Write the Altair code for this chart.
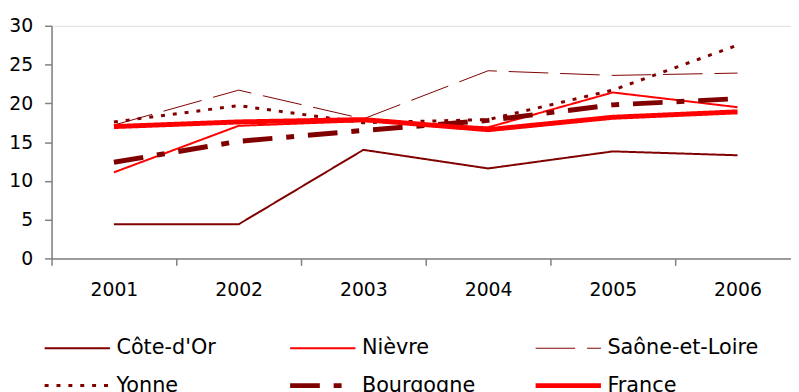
import altair as alt
import pandas as pd

years = [2001, 2002, 2003, 2004, 2005, 2006]
series = ["Côte-d'Or", "Nièvre", "Saône-et-Loire", "Yonne", "Bourgogne", "France"]
cote_dor = [4.4, 4.4, 14.0, 11.6, 13.8, 13.3]
nievre = [11.1, 17.1, 17.7, 16.9, 21.4, 19.5]
saone = [17.2, 21.7, 18.0, 24.2, 23.6, 23.9]
yonne = [17.6, 19.7, 17.5, 17.9, 21.7, 27.5]
bourgogne = [12.4, 15.1, 16.5, 17.8, 19.8, 20.6]
france = [17.0, 17.6, 17.9, 16.6, 18.2, 18.9]
y_ticks = [0, 5, 10, 15, 20, 25, 30]

colors = ["#800000", "#ff0000", "#800000", "#800000", "#800000", "#ff0000"]
dashes = [[1, 0], [1, 0], [40, 12], [4, 8], [30, 14, 8, 14], [1, 0]]
widths = [2, 2, 1, 3, 5, 5]

values = [cote_dor, nievre, saone, yonne, bourgogne, france]
rows = []
for name, vals in zip(series, values):
    for yr, v in zip(years, vals):
        rows.append({"year": yr, "value": v, "serie": name})
df = pd.DataFrame(rows)

W = 747
H = 235
band = 126

legend = alt.Legend(
    title=None,
    orient="none",
    direction="horizontal",
    legendX=-7,
    legendY=315,
    columns=3,
    symbolType="M-6,0H6",
    symbolSize=121,
    symbolOffset=22.5,
    labelOffset=29,
    labelFont="DejaVu Sans",
    labelFontSize=21,
    labelColor="#000000",
    labelLimit=400,
    columnPadding=12,
    rowPadding=16,
    gridAlign="all",
    symbolFillColor="transparent",
)

chart = alt.Chart(df).mark_line(strokeCap="butt", strokeJoin="round").encode(
    x=alt.X(
        "year:Q",
        scale=alt.Scale(domain=[2000.5, 2000.5 + W / band], nice=False, zero=False),
        axis=alt.Axis(
            title=None,
            values=years,
            format="d",
            tickOffset=-band / 2,
            labelOffset=band / 2,
            tickSize=7,
            labelPadding=15,
            labelFont="DejaVu Sans",
            labelFontSize=19,
            labelColor="#000000",
            domainColor="#808080",
            tickColor="#808080",
            domainWidth=1.5,
            tickWidth=1.5,
            grid=False,
        ),
    ),
    y=alt.Y(
        "value:Q",
        scale=alt.Scale(domain=[0, 30], nice=False),
        axis=alt.Axis(
            title=None,
            values=y_ticks,
            tickSize=7,
            labelPadding=12,
            labelFont="DejaVu Sans",
            labelFontSize=19,
            labelColor="#000000",
            domainColor="#808080",
            tickColor="#808080",
            domainWidth=1.5,
            tickWidth=1.5,
            grid=False,
        ),
    ),
    color=alt.Color("serie:N", scale=alt.Scale(type="ordinal", domain=series, range=colors), legend=legend, sort=series),
    strokeDash=alt.StrokeDash("serie:N", scale=alt.Scale(type="ordinal", domain=series, range=dashes), legend=legend, sort=series),
    strokeWidth=alt.StrokeWidth("serie:N", scale=alt.Scale(type="ordinal", domain=series, range=widths), legend=legend, sort=series),
).properties(
    width=W,
    height=H,
    autosize=alt.AutoSizeParams(type="none"),
    padding={"left": 44, "top": 16, "right": 0, "bottom": 133},
).configure_view(stroke=None).configure(background="white")

chart.save("out.html", embed_options={"renderer": "svg", "actions": False})
